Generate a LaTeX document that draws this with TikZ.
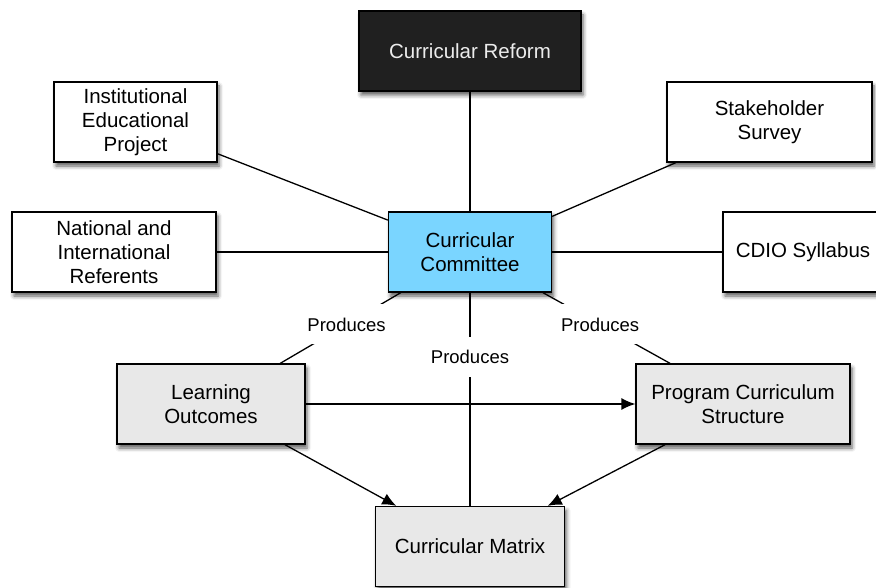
\documentclass[tikz,border=0pt]{standalone}
\usepackage{fontspec}
\setmainfont{Liberation Sans}
\usetikzlibrary{arrows.meta,shadows.blur}

\definecolor{reformfill}{RGB}{32,32,32}
\definecolor{reformtext}{RGB}{236,236,236}
\definecolor{committeefill}{RGB}{122,213,255}
\definecolor{productfill}{RGB}{232,232,232}

\tikzset{
  plainbox/.style={draw=black, line width=1.3pt, fill=white, minimum height=80pt,
    align=center, inner sep=2pt, font=\fontsize{20.5}{24}\selectfont,
    blur shadow={shadow xshift=2pt, shadow yshift=-4pt, shadow blur radius=4pt, shadow opacity=65}},
  darkbox/.style={plainbox, fill=reformfill, text=reformtext},
  bluebox/.style={plainbox, fill=committeefill},
  graybox/.style={plainbox, fill=productfill},
  link/.style={line width=1.3pt},
  flow/.style={line width=1.3pt, -{Latex[length=14pt,width=12pt]}},
  produces/.style={fill=white, inner xsep=2pt, minimum height=40pt, font=\fontsize{18.5}{22}\selectfont}
}

\begin{document}
\begin{tikzpicture}[x=1pt,y=-1pt]
\useasboundingbox (0,0) rectangle (876,588);
% boxes
\node[darkbox, minimum width=222pt] (reform) at (470,51) {Curricular Reform};
\node[plainbox, minimum width=163pt] (inst) at (135.5,122) {Institutional\\Educational\\Project};
\node[plainbox, minimum width=205pt] (stake) at (769.5,122) {Stakeholder\\Survey};
\node[plainbox, minimum width=204pt] (natl) at (114,252) {National and\\International\\Referents};
\node[bluebox, minimum width=163pt] (comm) at (470,252) {Curricular\\Committee};
\node[plainbox, minimum width=160pt] (cdio) at (803,252) {CDIO Syllabus};
\node[graybox, minimum width=188pt] (lo) at (211,404) {Learning\\Outcomes};
\node[graybox, minimum width=214pt] (pcs) at (743,404) {Program Curriculum\\Structure};
\node[graybox, minimum width=189pt] (matrix) at (470,546.5) {Curricular Matrix};
% links
\draw[link] (comm) -- (reform);
\draw[link] (comm) -- (inst);
\draw[link] (comm) -- (stake);
\draw[link] (comm) -- (natl);
\draw[link] (comm) -- (cdio);
\draw[link] (comm) -- node[produces, pos=0.45] {Produces} (lo);
\draw[link] (comm) -- node[produces, pos=0.45] {Produces} (pcs);
\draw[link] (comm) -- node[produces, pos=0.3] {Produces} (matrix);
% flows
\draw[flow] (lo) -- (pcs);
\draw[flow] (lo) -- (matrix);
\draw[flow] (pcs) -- (matrix);
\end{tikzpicture}
\end{document}
